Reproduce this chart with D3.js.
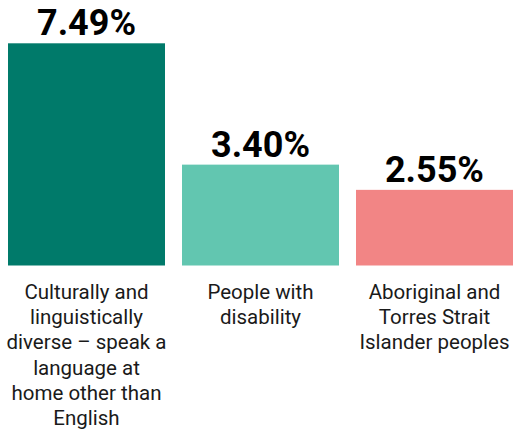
<!DOCTYPE html>
<html>
<head>
<meta charset="utf-8">
<style>
 body { margin: 0; background: #fff; }
 svg { display: block; }
 .value { font-family: Roboto, sans-serif; font-weight: 700; font-size: 36px; fill: #000; }
 .cat { font-family: Roboto, sans-serif; font-size: 20.5px; fill: #1a1a1a; }
</style>
</head>
<body>
<svg width="513" height="437"></svg>
<script src="https://d3js.org/d3.v7.min.js"></script>
<script>
// data
var categories = [
  "Culturally and\nlinguistically\ndiverse \u2013 speak a\nlanguage at\nhome other than\nEnglish",
  "People with\ndisability",
  "Aboriginal and\nTorres Strait\nIslander peoples"
];
var values = [7.49, 3.40, 2.55];
var valueLabels = ["7.49%", "3.40%", "2.55%"];
var colors = ["#007a6a", "#62c6b0", "#f28585"];

var svg = d3.select("svg");

var x = d3.scaleBand()
    .domain(categories)
    .range([8, 513])
    .paddingInner(0.0977)
    .paddingOuter(0);

var y = d3.scaleLinear()
    .domain([0, d3.max(values)])
    .range([265.5, 43.3]);

var rows = categories.map(function(c, i){
    return { cat: c, value: values[i], label: valueLabels[i], color: colors[i] };
});

svg.selectAll(".bar")
    .data(rows)
  .enter().append("rect")
    .attr("class", "bar")
    .attr("x", function(d){ return x(d.cat); })
    .attr("width", x.bandwidth())
    .attr("y", function(d){ return y(d.value); })
    .attr("height", function(d){ return y(0) - y(d.value); })
    .style("fill", function(d){ return d.color; });

svg.selectAll(".value")
    .data(rows)
  .enter().append("text")
    .attr("class", "value")
    .attr("text-anchor", "middle")
    .attr("x", function(d){ return x(d.cat) + x.bandwidth()/2; })
    .attr("y", function(d){ return y(d.value) - 8; })
    .text(function(d){ return d.label; });

// category labels under the bars, one tspan per line
var cats = svg.selectAll(".cat")
    .data(rows)
  .enter().append("text")
    .attr("class", "cat")
    .attr("text-anchor", "middle")
    .attr("y", y(0) + 33.5);

cats.selectAll("tspan")
    .data(function(d){
        var cx = x(d.cat) + x.bandwidth()/2;
        return d.cat.split("\n").map(function(t){ return { t: t, cx: cx }; });
    })
  .enter().append("tspan")
    .attr("x", function(d){ return d.cx; })
    .attr("dy", function(d, i){ return i == 0 ? 0 : 25.2; })
    .text(function(d){ return d.t; });
</script>
</body>
</html>
